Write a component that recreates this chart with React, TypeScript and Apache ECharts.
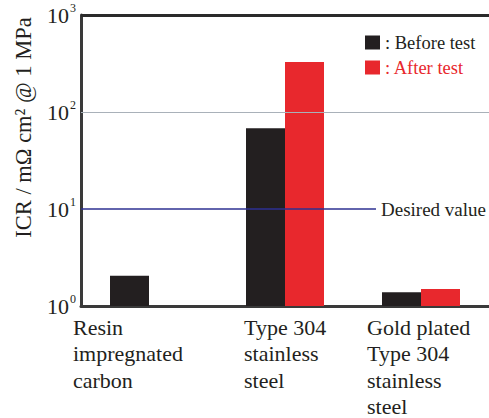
import React, { useEffect, useRef } from "react";
import * as echarts from "echarts";

const categories = [
  "Resin\nimpregnated\ncarbon",
  "Type 304\nstainless\nsteel",
  "Gold plated\nType 304\nstainless\nsteel",
];
const beforeTest: (number | string)[] = [2.05, 68, 1.39];
const afterTest: (number | string)[] = ["-", 327, 1.5];
const desiredValue = 10;
const desiredLineX = [0, 0.723];
const yTicksExp = [0, 1, 2, 3];
const gridValue = 100;

const FONT = "Liberation Serif";
const INK = "#231f20";
const RED = "#e8282d";

export default function App() {
  const ref = useRef<HTMLDivElement>(null);
  useEffect(() => {
    if (!ref.current) return;
    const chart = echarts.init(ref.current, undefined, { renderer: "svg" });
    const labelWidths = [152, 82, 108];
    const rich: any = {};
    labelWidths.forEach((w, i) => {
      rich["c" + i] = {
        width: w,
        align: "left",
        fontSize: 22,
        lineHeight: 26.5,
        fontFamily: FONT,
        color: INK,
      };
    });
    const yMax = Math.pow(10, yTicksExp[yTicksExp.length - 1]);
    chart.setOption({
      animation: false,
      textStyle: { fontFamily: FONT },
      grid: { left: 81, right: 0, top: 15, bottom: 112, containLabel: false },
      legend: {
        orient: "vertical",
        left: 365,
        top: 33,
        padding: 0,
        itemWidth: 15,
        itemHeight: 14,
        itemGap: 6,
        icon: "rect",
        formatter: (n: string) => ": " + n,
        data: [
          { name: "Before test", textStyle: { color: INK, fontFamily: FONT, fontSize: 18.5 } },
          { name: "After test", textStyle: { color: RED, fontFamily: FONT, fontSize: 18.5 } },
        ],
        textStyle: { fontFamily: FONT, fontSize: 18.5 },
      },
      xAxis: [
        {
          type: "category",
          data: categories,
          axisTick: { show: false },
          axisLine: { show: true, lineStyle: { color: "#3a3a3a", width: 3 } },
          axisLabel: {
            interval: 0,
            margin: 8,
            fontFamily: FONT,
            fontSize: 22,
            rich,
            formatter: (v: string, idx: number) =>
              v
                .split("\n")
                .map((l) => `{c${idx}|${l}}`)
                .join("\n"),
          },
        },
        {
          type: "value",
          min: 0,
          max: 1,
          show: false,
        },
      ],
      yAxis: {
        type: "log",
        logBase: 10,
        min: Math.pow(10, yTicksExp[0]),
        max: yMax,
        axisLine: { show: true, lineStyle: { color: "#3a3a3a", width: 3 } },
        axisTick: { show: false },
        splitLine: { show: false },
        name: "ICR / mΩ cm² @ 1 MPa",
        nameLocation: "middle",
        nameGap: 46,
        nameTextStyle: {
          fontFamily: FONT,
          fontSize: 22.5,
          color: INK,
          padding: [0, 0, 0, 66],
        },
        axisLabel: {
          margin: 5,
          fontFamily: FONT,
          formatter: (v: number) => `{b|10}{s|${Math.round(Math.log10(v))}}`,
          rich: {
            b: { fontFamily: FONT, fontSize: 22, color: INK },
            s: { fontFamily: FONT, fontSize: 12, color: INK, padding: [0, 0, 14, 1] },
          },
        },
      },
      series: [
        {
          name: "Before test",
          type: "bar",
          data: beforeTest,
          barWidth: 39,
          barGap: "0%",
          itemStyle: { color: INK },
          markLine: {
            silent: true,
            symbol: "none",
            label: { show: false },
            data: [
              { yAxis: gridValue, lineStyle: { color: "#a9b1b9", width: 1.2, type: "solid" } },
              { yAxis: yMax, lineStyle: { color: "#2a2a2a", width: 3, type: "solid" } },
            ],
          },
        },
        {
          name: "After test",
          type: "bar",
          data: afterTest,
          barWidth: 39,
          barGap: "0%",
          itemStyle: { color: RED },
        },
        {
          name: "Desired",
          type: "line",
          xAxisIndex: 1,
          symbol: "none",
          data: desiredLineX.map((x) => [x, desiredValue]),
          lineStyle: { color: "#2e3192", width: 1.5 },
          endLabel: {
            show: true,
            formatter: "Desired value",
            distance: 5,
            fontFamily: FONT,
            fontSize: 19,
            color: INK,
          },
        },
      ],
    });
    return () => chart.dispose();
  }, []);
  return (
    <div
      ref={ref}
      style={{ position: "fixed", left: 0, top: 0, width: 489, height: 418, background: "#fff" }}
    />
  );
}
